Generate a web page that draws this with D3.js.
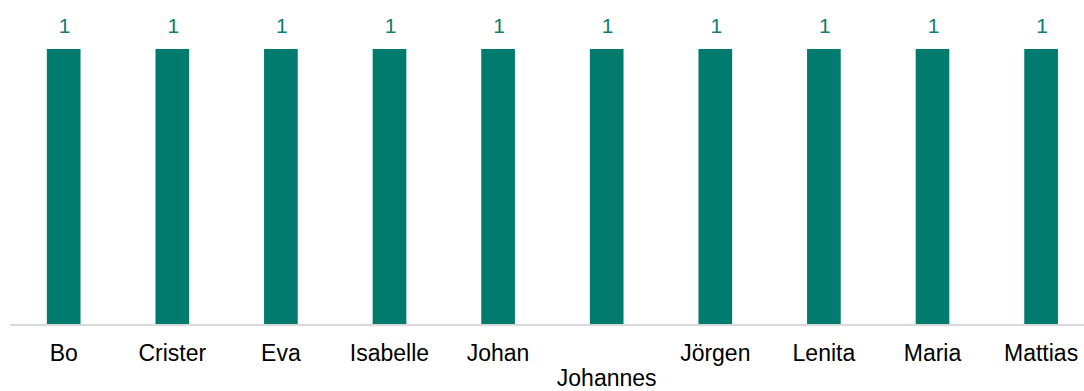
<!DOCTYPE html>
<html>
<head>
<meta charset="utf-8">
<script src="https://cdn.jsdelivr.net/npm/d3@7"></script>
<style>
  html, body { margin: 0; padding: 0; background: #fff; }
  svg { display: block; }
</style>
</head>
<body>
<div id="chart"></div>
<script>
// chart data
var names = ["Bo", "Crister", "Eva", "Isabelle", "Johan", "Johannes", "Jörgen", "Lenita", "Maria", "Mattias"];
var counts = [1, 1, 1, 1, 1, 1, 1, 1, 1, 1];

var W = 1084, H = 391;
var barColor = "#007B6E";
var font = "'Liberation Sans', Arial, sans-serif";

var svg = d3.select("#chart")
  .append("svg")
    .attr("width", W)
    .attr("height", H);

// x: band scale, y: linear
var x = d3.scaleBand()
  .domain(names)
  .range([9.4, 1095.4])
  .paddingInner(0.69)
  .paddingOuter(0.345);

var y = d3.scaleLinear()
  .domain([0, 1])
  .range([324.5, 49]);

// bars
svg.append("g")
  .selectAll("rect")
  .data(names)
  .enter()
  .append("rect")
    .attr("x", function(d) { return x(d); })
    .attr("y", function(d, i) { return y(counts[i]); })
    .attr("width", x.bandwidth())
    .attr("height", function(d, i) { return y(0) - y(counts[i]); })
    .attr("fill", barColor);

// value labels
svg.append("g")
  .selectAll("text")
  .data(names)
  .enter()
  .append("text")
    .attr("x", function(d) { return x(d) + x.bandwidth() / 2 + 1; })
    .attr("y", function(d, i) { return y(counts[i]) - 16; })
    .attr("text-anchor", "middle")
    .attr("font-family", font)
    .attr("font-size", "21px")
    .attr("fill", "#0E7E70")
    .text(function(d, i) { return counts[i]; });

// baseline
svg.append("line")
  .attr("x1", 10)
  .attr("x2", W)
  .attr("y1", y(0) + 0.5)
  .attr("y2", y(0) + 0.5)
  .attr("stroke", "#d9d9d9")
  .attr("stroke-width", 2);

// category labels - wide ones drop to a second row like Excel does
var step = x.step();
var labels = svg.append("g")
  .selectAll("text")
  .data(names)
  .enter()
  .append("text")
    .attr("x", function(d) { return x(d) + x.bandwidth() / 2; })
    .attr("y", 361)
    .attr("text-anchor", "middle")
    .attr("font-family", font)
    .attr("font-size", "23px")
    .attr("fill", "#000")
    .text(function(d) { return d; });

labels.each(function() {
  var w = this.getComputedTextLength();
  if (w > step * 0.88) d3.select(this).attr("y", 386);
});
</script>
</body>
</html>
